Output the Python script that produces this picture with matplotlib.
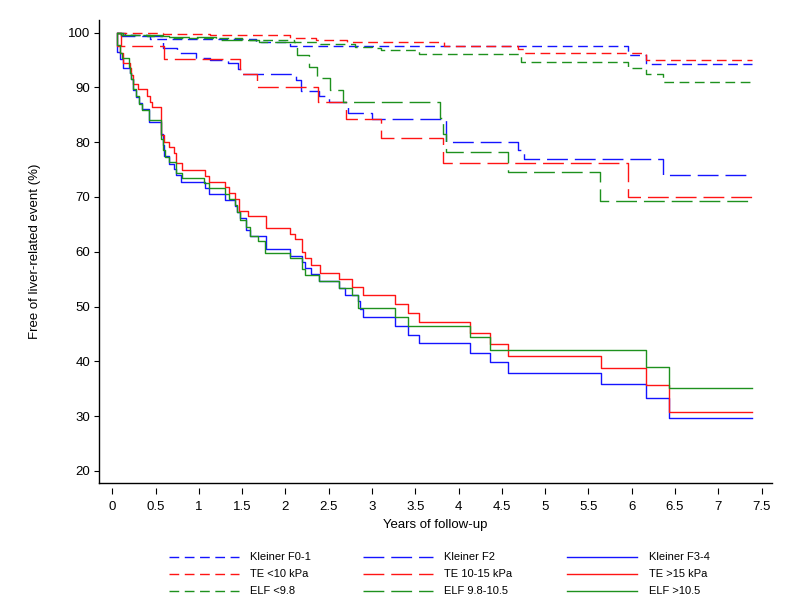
import matplotlib
matplotlib.use("Agg")
import matplotlib.pyplot as plt
from matplotlib.lines import Line2D

plt.rcParams['font.family'] = ['Liberation Sans', 'DejaVu Sans']

# ---------------- data ----------------
f01_t = [0.05, 0.15, 0.44, 1.66, 2.05, 5.96, 6.16, 7.39]
f01_s = [100, 99.6, 98.8, 98.2, 97.6, 95.9, 94.3, 94.3]

f2_t = [0.05, 0.10, 0.58, 0.75, 0.97, 1.13, 1.34, 1.45, 1.49, 2.12, 2.18, 2.39,
        2.50, 2.72, 3.00, 3.85, 4.69, 4.76, 6.36, 7.39]
f2_s = [100, 99.4, 97.2, 96.2, 95.3, 95.0, 94.4, 93.3, 92.5, 91.4, 89.4, 88.4,
        87.3, 85.3, 84.2, 80.1, 78.5, 77.0, 74.0, 74.0]

f34_t = [0.05, 0.055, 0.09, 0.12, 0.20, 0.22, 0.24, 0.27, 0.31, 0.34, 0.42, 0.56,
         0.58, 0.60, 0.66, 0.71, 0.74, 0.79, 1.07, 1.12, 1.30, 1.42, 1.44, 1.47,
         1.55, 1.59, 1.77, 2.05, 2.19, 2.23, 2.29, 2.39, 2.62, 2.69, 2.84, 2.86,
         2.90, 3.27, 3.41, 3.54, 4.13, 4.36, 4.57, 5.64, 6.17, 6.43, 7.39]
f34_s = [100, 96.5, 95.1, 93.5, 92.6, 91.5, 89.5, 88.2, 87.1, 86.0, 83.6, 81.5,
         79.4, 77.4, 76.0, 75.1, 74.0, 72.8, 71.6, 70.6, 69.5, 68.4, 67.3, 66.1,
         64.0, 62.8, 60.5, 59.3, 58.2, 57.0, 55.9, 54.6, 53.4, 52.1, 51.0, 49.5,
         48.1, 46.5, 44.9, 43.3, 41.6, 39.8, 37.8, 35.8, 33.3, 29.7, 29.7]

te10_t = [0.05, 0.59, 1.13, 2.05, 2.35, 2.71, 3.83, 4.69, 4.76, 6.16, 7.39]
te10_s = [100, 99.7, 99.5, 99.0, 98.7, 98.2, 97.6, 97.0, 96.2, 95.0, 95.0]

te1015_t = [0.05, 0.10, 0.60, 1.47, 1.67, 2.38, 2.70, 3.10, 3.82, 5.96, 7.39]
te1015_s = [100, 97.6, 95.1, 92.4, 90.1, 87.4, 84.2, 80.8, 76.2, 70.0, 70.0]

te15_t = [0.05, 0.055, 0.09, 0.12, 0.20, 0.22, 0.24, 0.30, 0.40, 0.43, 0.46, 0.565,
          0.60, 0.66, 0.71, 0.74, 0.80, 1.07, 1.12, 1.30, 1.35, 1.42, 1.46, 1.57,
          1.78, 2.05, 2.11, 2.19, 2.23, 2.29, 2.40, 2.62, 2.77, 2.90, 3.27, 3.41,
          3.54, 4.13, 4.36, 4.57, 5.64, 6.17, 6.43, 7.39]
te15_s = [100, 97.5, 96.2, 94.4, 93.5, 92.3, 90.7, 89.7, 88.5, 87.4, 86.4, 81.3,
          80.1, 79.1, 78.1, 76.2, 74.9, 73.8, 72.8, 71.8, 70.7, 69.6, 67.5, 66.5,
          64.3, 63.3, 62.3, 59.9, 58.8, 57.6, 56.2, 55.0, 53.5, 52.1, 50.4, 48.8,
          47.1, 45.1, 43.1, 41.0, 38.8, 35.7, 30.7, 30.7]

elf_lo_t = [0.05, 0.10, 0.40, 0.65, 1.50, 2.10, 2.40, 2.80, 3.00, 3.10, 3.54, 4.72,
            5.96, 6.17, 6.36, 7.39]
elf_lo_s = [100, 99.6, 99.3, 99.0, 98.6, 98.2, 97.9, 97.4, 97.1, 96.8, 96.1, 94.7,
            93.5, 92.4, 90.9, 90.9]

elf_mid_t = [0.05, 0.12, 0.60, 1.20, 1.70, 2.13, 2.27, 2.36, 2.51, 2.66, 3.79, 3.82,
             3.86, 4.57, 5.63, 7.39]
elf_mid_s = [100, 99.5, 99.2, 98.6, 98.2, 95.9, 93.8, 91.7, 89.5, 87.3, 84.5, 81.5,
             78.3, 74.6, 69.3, 69.3]

elf_hi_t = [0.05, 0.055, 0.09, 0.11, 0.19, 0.20, 0.22, 0.24, 0.27, 0.31, 0.34, 0.42,
            0.56, 0.59, 0.61, 0.66, 0.74, 0.80, 1.06, 1.12, 1.30, 1.35, 1.42, 1.44,
            1.47, 1.55, 1.59, 1.68, 1.76, 2.05, 2.19, 2.23, 2.39, 2.62, 2.77, 2.84,
            3.27, 3.41, 4.13, 4.36, 6.17, 6.43, 7.39]
elf_hi_s = [100, 97.8, 96.3, 95.3, 93.8, 92.6, 91.5, 89.7, 88.4, 87.0, 85.8, 84.1,
            80.5, 78.5, 77.3, 76.3, 74.4, 73.4, 72.5, 71.6, 70.6, 69.6, 68.5, 67.3,
            65.8, 64.6, 62.8, 61.9, 59.7, 58.8, 56.8, 55.8, 54.6, 53.4, 52.1, 49.7,
            48.1, 46.5, 44.4, 42.1, 38.9, 35.1, 35.1]

x_ticks = [0, 0.5, 1, 1.5, 2, 2.5, 3, 3.5, 4, 4.5, 5, 5.5, 6, 6.5, 7, 7.5]
x_tick_labels = ['0', '0.5', '1', '1.5', '2', '2.5', '3', '3.5', '4', '4.5',
                 '5', '5.5', '6', '6.5', '7', '7.5']
y_ticks = [20, 30, 40, 50, 60, 70, 80, 90, 100]

labels = ['Kleiner F0-1', 'Kleiner F2', 'Kleiner F3-4',
          'TE <10 kPa', 'TE 10-15 kPa', 'TE >15 kPa',
          'ELF <9.8', 'ELF 9.8-10.5', 'ELF >10.5']

# ---------------- styles ----------------
BLUE = '#1414ff'
RED = '#ff1414'
GREEN = '#1e911e'
SHORT = (0, (7, 4))
LONG = (0, (15, 5))
SOLID = '-'

series = [
    (f01_t, f01_s, BLUE, SHORT), (f2_t, f2_s, BLUE, LONG), (f34_t, f34_s, BLUE, SOLID),
    (te10_t, te10_s, RED, SHORT), (te1015_t, te1015_s, RED, LONG), (te15_t, te15_s, RED, SOLID),
    (elf_lo_t, elf_lo_s, GREEN, SHORT), (elf_mid_t, elf_mid_s, GREEN, LONG), (elf_hi_t, elf_hi_s, GREEN, SOLID),
]

W, H = 795, 597
fig = plt.figure(figsize=(W / 100, H / 100), dpi=100)
ax_l, ax_r, ax_t, ax_b = 99.3, 772, 20, 483
ax = fig.add_axes([ax_l / W, 1 - ax_b / H, (ax_r - ax_l) / W, (ax_b - ax_t) / H])

for t, s, c, ls in series:
    ax.step(t, s, where='post', color=c, linestyle=ls, linewidth=1.0)

ax.set_xlim(-0.15, 7.62)
ax.set_ylim(17.8, 102.3)
for sp in ['top', 'right']:
    ax.spines[sp].set_visible(False)
ax.spines['left'].set_linewidth(1.0)
ax.spines['bottom'].set_linewidth(1.0)

ax.set_yticks(y_ticks)
ax.tick_params(axis='y', direction='out', length=3.6, width=0.8, pad=3, labelsize=9.5)
ax.tick_params(axis='x', bottom=False, labelbottom=False)

# x ticks detached slightly below the axis line
secax = ax.secondary_xaxis(-0.011)
secax.set_xticks(x_ticks, labels=x_tick_labels)
secax.spines['bottom'].set_visible(False)
secax.tick_params(axis='x', direction='out', length=4.3, width=0.8, pad=5, labelsize=9.5)

ax.set_ylabel('Free of liver-related event (%)', fontsize=9.5)
ax.yaxis.set_label_coords((41 - ax_l) / (ax_r - ax_l), 0.5)
ax.set_xlabel('Years of follow-up', fontsize=9.5)
ax.xaxis.set_label_coords(0.5, -(519 - ax_b) / (ax_b - ax_t))

# ---------------- legend (manual, 3x3 grid) ----------------
rows_y = [557, 574, 591]
cols = [(169, 239, 250), (363, 433, 444), (567, 637, 649)]
for i, (t, s, c, ls) in enumerate(series):
    r, k = divmod(i, 3)
    x0, x1, xt = cols[k]
    yy = 1 - rows_y[r] / H
    fig.add_artist(Line2D([x0 / W, x1 / W], [yy, yy], transform=fig.transFigure,
                          color=c, linestyle=ls, linewidth=1.0))
    fig.text(xt / W, yy, labels[i], fontsize=8, va='center', ha='left')

fig.savefig('out.png', dpi=100)
